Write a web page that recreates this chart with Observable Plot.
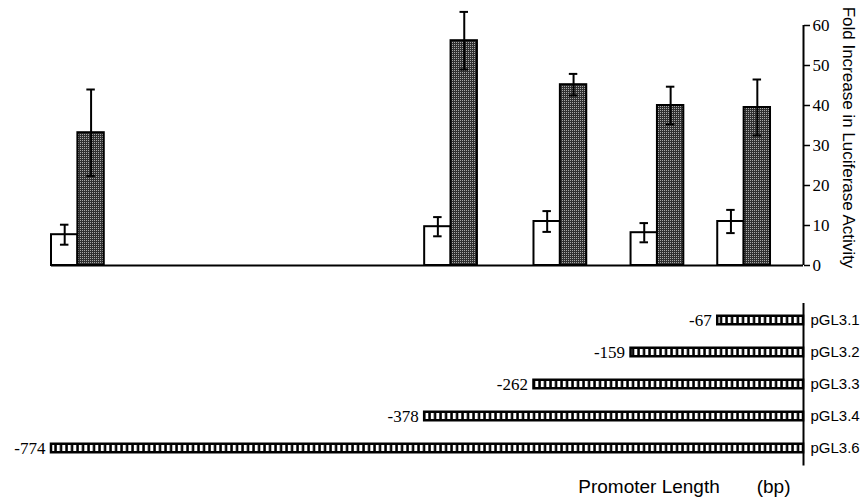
<!DOCTYPE html>
<html>
<head>
<meta charset="utf-8">
<script src="https://cdn.jsdelivr.net/npm/d3@7"></script>
<script src="https://cdn.jsdelivr.net/npm/@observablehq/plot@0.6"></script>
<style>
  body { margin: 0; background: #fff; }
  #chart svg { display: block; }
</style>
</head>
<body>
<div id="chart"></div>
<script>
// ---- data ----
const constructs    = ["pGL3.1", "pGL3.2", "pGL3.3", "pGL3.4", "pGL3.6"];
const promoterStart = [-67, -159, -262, -378, -774];     // bp
const controlFold   = [11.0, 8.2, 11.0, 9.7, 7.7];       // open bars
const controlErr    = [2.9, 2.4, 2.6, 2.4, 2.5];
const treatedFold   = [39.5, 40.0, 45.2, 56.2, 33.2];    // stippled bars
const treatedErr    = [7.0, 4.7, 2.7, 7.2, 10.8];
const yTicks        = [0, 10, 20, 30, 40, 50, 60];
const promoterEnd   = 24;                                // 3' end of the drawn fragments (bp)
const yLabel        = "Fold Increase in Luciferase Activity";
const xLabel        = "Promoter Length" + "\u00a0".repeat(7) + "(bp)";

// ---- derived table ----
const barW = 28;   // bar width in bp
const capW = 4.5;  // half cap width in bp
const rows = constructs.map((c, i) => ({
  construct: c,
  start: promoterStart[i],
  control: controlFold[i],
  controlErr: controlErr[i],
  treated: treatedFold[i],
  treatedErr: treatedErr[i]
}));
const bars = rows.flatMap(r => [
  {construct: r.construct, kind: "control", x1: r.start, x2: r.start + barW, v: r.control, e: r.controlErr},
  {construct: r.construct, kind: "treated", x1: r.start + barW, x2: r.start + 2 * barW, v: r.treated, e: r.treatedErr}
]);
bars.forEach(b => { b.xc = (b.x1 + b.x2) / 2; });

const W = 862;
const xScale = {type: "linear", domain: [d3.min(promoterStart), promoterEnd]};
const serif = "'Liberation Serif', 'Times New Roman', serif";
const sans = "'Liberation Sans', Arial, sans-serif";

// ---- top panel: luciferase activity ----
const activityPlot = Plot.plot({
  width: W,
  height: 280,
  marginLeft: 51,
  marginRight: 59,
  marginTop: 25,
  marginBottom: 15,
  x: {...xScale, axis: null},
  y: {domain: [0, 60], axis: null},
  marks: [
    Plot.rect(bars, {
      x1: "x1", x2: "x2", y1: 0, y2: "v",
      fill: d => d.kind === "control" ? "white" : "url(#stipple)",
      stroke: "black", strokeWidth: 2
    }),
    Plot.ruleX(bars, {x: "xc", y1: d => d.v - d.e, y2: d => d.v + d.e, stroke: "black", strokeWidth: 2}),
    Plot.ruleY(bars, {y: d => d.v + d.e, x1: d => d.xc - capW, x2: d => d.xc + capW, stroke: "black", strokeWidth: 2}),
    Plot.ruleY(bars, {y: d => d.v - d.e, x1: d => d.xc - capW, x2: d => d.xc + capW, stroke: "black", strokeWidth: 2}),
    Plot.ruleY([0], {stroke: "black", strokeWidth: 2}),
    Plot.ruleX([promoterEnd], {y1: 0, y2: 60, stroke: "black", strokeWidth: 2}),
    Plot.axisY({
      anchor: "right", ticks: yTicks, tickSize: 6, tickPadding: 3,
      tickFormat: d3.format("d"), label: null,
      fontFamily: serif, fontSize: 17, fill: "black", stroke: "black", strokeWidth: 1.5
    }),
    Plot.text([yLabel], {
      frameAnchor: "right", textAnchor: "middle", dx: 45, dy: -8, rotate: 90,
      fontFamily: sans, fontSize: 17, fill: "black"
    })
  ]
});

// ---- bottom panel: promoter constructs ----
const constructPlot = Plot.plot({
  width: W,
  height: 220,
  marginLeft: 51,
  marginRight: 59,
  marginTop: 23,
  marginBottom: 34.5,
  x: {...xScale, axis: null},
  y: {type: "band", domain: constructs, padding: 0, axis: null},
  marks: [
    Plot.barX(rows, {
      x1: "start", x2: promoterEnd, y: "construct",
      insetTop: 11.75, insetBottom: 11.75,
      fill: "url(#hatch)", stroke: "black", strokeWidth: 2.5
    }),
    Plot.ruleX([promoterEnd], {stroke: "black", strokeWidth: 2}),
    Plot.text(rows, {
      x: "start", y: "construct", text: d => String(d.start),
      textAnchor: "end", dx: -6, fontFamily: serif, fontSize: 17, fill: "black"
    }),
    Plot.text(rows, {
      x: promoterEnd, y: "construct", text: "construct",
      textAnchor: "start", dx: 7, fontFamily: sans, fontSize: 15, fill: "black"
    }),
    Plot.text([xLabel], {
      frameAnchor: "bottom-right", textAnchor: "end", dx: -13, dy: 27,
      fontFamily: sans, fontSize: 19, fill: "black"
    })
  ]
});

// ---- fill patterns (stipple + hatching) ----
function addDefs(svg, html) {
  const ns = "http://www.w3.org/2000/svg";
  const defs = document.createElementNS(ns, "defs");
  defs.innerHTML = html;
  svg.insertBefore(defs, svg.firstChild);
}
addDefs(activityPlot,
  `<pattern id="stipple" patternUnits="userSpaceOnUse" width="2" height="2">
     <rect width="2" height="2" fill="#303030"/>
     <rect width="1" height="1" fill="#a8a8a8"/>
   </pattern>`);
addDefs(constructPlot,
  `<pattern id="hatch" patternUnits="userSpaceOnUse" width="5.5" height="20">
     <rect width="5.5" height="20" fill="black"/>
     <rect x="1.8" width="3" height="20" fill="white"/>
   </pattern>`);

const el = document.getElementById("chart");
el.appendChild(activityPlot);
el.appendChild(constructPlot);
</script>
</body>
</html>
